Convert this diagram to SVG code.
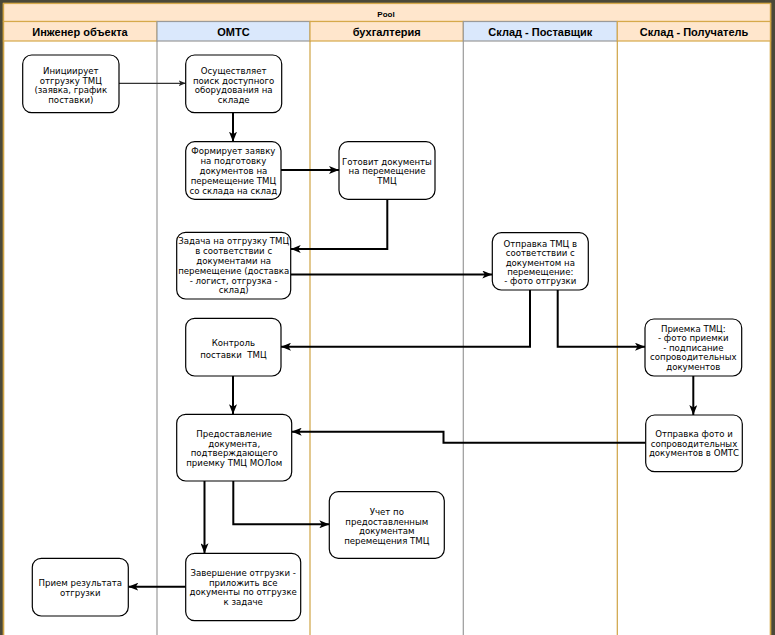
<svg xmlns="http://www.w3.org/2000/svg" width="775" height="635" viewBox="0 0 775 635">
<defs>
<style>
.frame{fill:#4a4838}
.pool{fill:#ffffff;stroke:#d6a94a;stroke-width:1.5}
.hdr{fill:#ffe6cc;stroke:#d6a94a;stroke-width:1.2}
.hdrb{fill:#dae8fc;stroke:#9a9a9a;stroke-width:1.2}
.lg{stroke:#cfa344;stroke-width:1.2;fill:none}
.lb{stroke:#9a9a9a;stroke-width:1.2;fill:none}
.pt{font-family:"Liberation Sans",Arial,sans-serif;font-weight:bold;font-size:8px;fill:#000;text-anchor:middle}
.ht{font-family:"Liberation Sans",Arial,sans-serif;font-weight:bold;font-size:11px;fill:#000;text-anchor:middle}
.box{fill:#ffffff;stroke:#000;stroke-width:1.2}
.t{font-family:"DejaVu Sans",Verdana,sans-serif;font-size:8.6px;fill:#000;text-anchor:middle}
.c{fill:none;stroke:#000;stroke-width:2}
.c1{fill:none;stroke:#333;stroke-width:1.2}
</style>
<marker id="a" viewBox="0 0 10 8" refX="10" refY="4" markerWidth="10" markerHeight="8" markerUnits="userSpaceOnUse" orient="auto">
<path d="M0,0 L10,4 L0,8 L2.5,4 z" fill="#000"/>
</marker>
<marker id="as" viewBox="0 0 10 8" refX="10" refY="4" markerWidth="7" markerHeight="6" markerUnits="userSpaceOnUse" orient="auto">
<path d="M0,0 L10,4 L0,8 L2.5,4 z" fill="#222"/>
</marker>
</defs>

<rect class="frame" x="0" y="0" width="775" height="635"/>
<g id="pool">
<rect class="pool" x="3.5" y="3.5" width="767" height="640"/>
<rect class="hdr" x="3.5" y="3.5" width="767" height="18"/>
<text class="pt" x="386" y="16.5">Pool</text>
<rect class="hdr" x="3.5" y="21.5" width="153.5" height="19.5"/>
<rect class="hdrb" x="157" y="21.5" width="153" height="19.5"/>
<rect class="hdr" x="310" y="21.5" width="153.3" height="19.5"/>
<rect class="hdrb" x="463.3" y="21.5" width="154" height="19.5"/>
<rect class="hdr" x="617.3" y="21.5" width="153.2" height="19.5"/>
<line class="lb" x1="157" y1="41" x2="157" y2="640"/>
<line class="lg" x1="310" y1="41" x2="310" y2="640"/>
<line class="lb" x1="463.3" y1="41" x2="463.3" y2="640"/>
<line class="lg" x1="617.3" y1="41" x2="617.3" y2="640"/>
<line class="lg" x1="770.5" y1="3.5" x2="770.5" y2="640"/>
<line class="lg" x1="3.5" y1="3.5" x2="3.5" y2="640"/>
<text class="ht" x="80" y="35.5">Инженер объекта</text>
<text class="ht" x="233.5" y="35.5">ОМТС</text>
<text class="ht" x="386.7" y="35.5">бухгалтерия</text>
<text class="ht" x="540.3" y="35.5">Склад - Поставщик</text>
<text class="ht" x="694" y="35.5">Склад - Получатель</text>
</g>

<g id="connectors">
<path class="c1" d="M119,83.3 L185.7,83.3" marker-end="url(#as)"/>
<path class="c" d="M233,112.7 L233,141.7" marker-end="url(#a)"/>
<path class="c" d="M281,170 L339,170" marker-end="url(#a)"/>
<path class="c" d="M387.3,199.3 L387.3,249 L290.7,249" marker-end="url(#a)"/>
<path class="c" d="M290.7,274.5 L492.3,274.5" marker-end="url(#a)"/>
<path class="c" d="M530,290 L530,346.7 L281,346.7" marker-end="url(#a)"/>
<path class="c" d="M557.7,290 L557.7,346.7 L645,346.7" marker-end="url(#a)"/>
<path class="c" d="M233,376 L233,414.3" marker-end="url(#a)"/>
<path class="c" d="M693.3,376 L693.3,415" marker-end="url(#a)"/>
<path class="c" d="M645.7,442.7 L443.5,442.7 L443.5,431.7 L291.7,431.7" marker-end="url(#a)"/>
<path class="c" d="M204.5,481 L204.5,553.3" marker-end="url(#a)"/>
<path class="c" d="M233.3,481 L233.3,524.3 L329.3,524.3" marker-end="url(#a)"/>
<path class="c" d="M185.7,586.7 L128.3,586.7" marker-end="url(#a)"/>
</g>

<g id="n1">
<rect class="box" x="22.7" y="55" width="96.3" height="57.7" rx="9"/>
<text class="t" x="70.8" y="74">Инициирует<tspan x="70.8" y="83.6">отгрузку ТМЦ</tspan><tspan x="70.8" y="93.2">(заявка, график</tspan><tspan x="70.8" y="102.6">поставки)</tspan></text>
</g>
<g id="n2">
<rect class="box" x="185.7" y="55" width="96" height="57.7" rx="9"/>
<text class="t" x="233.7" y="74">Осуществляет<tspan x="233.7" y="83.6">поиск доступного</tspan><tspan x="233.7" y="93.2">оборудования на</tspan><tspan x="233.7" y="102.6">складе</tspan></text>
</g>
<g id="n3">
<rect class="box" x="185.7" y="141.7" width="95.3" height="57.6" rx="9"/>
<text class="t" x="233.4" y="153.8">Формирует заявку<tspan x="233.4" y="163.8">на подготовку</tspan><tspan x="233.4" y="173.8">документов на</tspan><tspan x="233.4" y="183.8">перемещение ТМЦ</tspan><tspan x="233.4" y="193.6">со склада на склад</tspan></text>
</g>
<g id="n4">
<rect class="box" x="339" y="141.7" width="96" height="57.6" rx="9"/>
<text class="t" x="387" y="164.6">Готовит документы<tspan x="387" y="174.4">на перемещение</tspan><tspan x="387" y="184.2">ТМЦ</tspan></text>
</g>
<g id="n5">
<rect class="box" x="176.7" y="232.3" width="114" height="66.7" rx="9"/>
<text class="t" x="233.7" y="243.6">Задача на отгрузку ТМЦ<tspan x="233.7" y="253.6">в соответствии с</tspan><tspan x="233.7" y="263.6">документами на</tspan><tspan x="233.7" y="273.6">перемещение (доставка</tspan><tspan x="233.7" y="283.6">- логист, отгрузка -</tspan><tspan x="233.7" y="293.4">склад)</tspan></text>
</g>
<g id="n6">
<rect class="box" x="492.3" y="232.7" width="96" height="57.3" rx="9"/>
<text class="t" x="540.3" y="247">Отправка ТМЦ в<tspan x="540.3" y="256.4">соответствии с</tspan><tspan x="540.3" y="265.8">документом на</tspan><tspan x="540.3" y="275">перемещение:</tspan><tspan x="540.3" y="284.2">- фото отгрузки</tspan></text>
</g>
<g id="n7">
<rect class="box" x="645" y="319" width="96.7" height="57" rx="9"/>
<text class="t" x="693.3" y="332">Приемка ТМЦ:<tspan x="693.3" y="341.4">- фото приемки</tspan><tspan x="693.3" y="350.8">- подписание</tspan><tspan x="693.3" y="360.4">сопроводительных</tspan><tspan x="693.3" y="370">документов</tspan></text>
</g>
<g id="n8">
<rect class="box" x="185.7" y="318.3" width="95.3" height="57.7" rx="9"/>
<text class="t" x="233.4" y="346.3">Контроль<tspan x="233.4" y="358">поставки&#160; ТМЦ</tspan></text>
</g>
<g id="n9">
<rect class="box" x="176.7" y="414.3" width="115" height="66.7" rx="9"/>
<text class="t" x="234.2" y="437.3">Предоставление<tspan x="234.2" y="446.9">документа,</tspan><tspan x="234.2" y="456.4">подтверждающего</tspan><tspan x="234.2" y="465.8">приемку ТМЦ МОЛом</tspan></text>
</g>
<g id="n10">
<rect class="box" x="645.7" y="415" width="96.6" height="56.7" rx="9"/>
<text class="t" x="694" y="437.3">Отправка фото и<tspan x="694" y="446.9">сопроводительных</tspan><tspan x="694" y="456.4">документов в ОМТС</tspan></text>
</g>
<g id="n11">
<rect class="box" x="329.3" y="491.7" width="115" height="66.6" rx="9"/>
<text class="t" x="386.8" y="514.7">Учет по<tspan x="386.8" y="524.5">предоставленным</tspan><tspan x="386.8" y="534.1">документам</tspan><tspan x="386.8" y="543.7">перемещения ТМЦ</tspan></text>
</g>
<g id="n12">
<rect class="box" x="185.7" y="553.3" width="115" height="67.4" rx="9"/>
<text class="t" x="243.2" y="575.7">Завершение отгрузки -<tspan x="243.2" y="585.5">приложить все</tspan><tspan x="243.2" y="595.3">документы по отгрузке</tspan><tspan x="243.2" y="605.1">к задаче</tspan></text>
</g>
<g id="n13">
<rect class="box" x="32.3" y="558.3" width="96" height="57.7" rx="9"/>
<text class="t" x="80.3" y="586.3">Прием результата<tspan x="80.3" y="595.7">отгрузки</tspan></text>
</g>
</svg>
